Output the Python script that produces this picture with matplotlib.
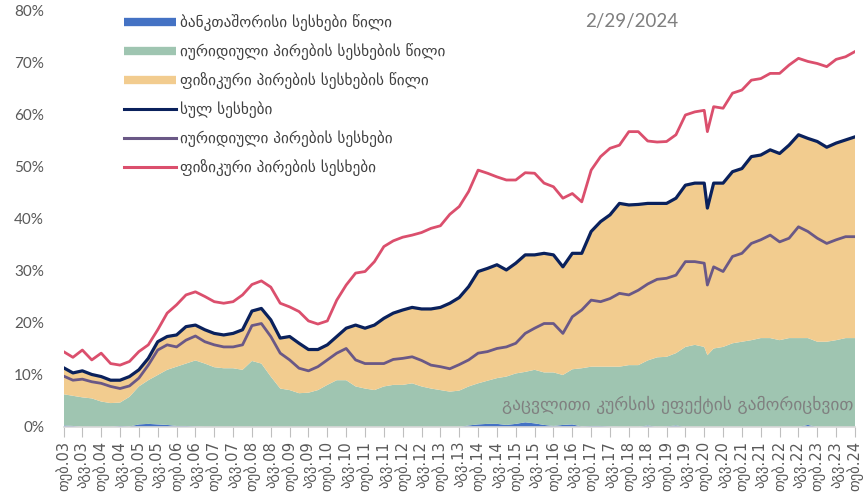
import matplotlib
matplotlib.use("Agg")
import matplotlib.pyplot as plt
from matplotlib.lines import Line2D
from matplotlib.ticker import FuncFormatter, MultipleLocator
import numpy as np

# month offsets from Feb 2003 (quarterly, plus the Mar 2020 dip)
months = list(range(0, 205, 3)) + [205] + list(range(207, 253, 3))

phys_loans = [
    14.5, 13.4, 14.8, 12.9, 14.2, 12.2, 11.9, 12.6, 14.5, 15.8,
    18.7, 21.9, 23.5, 25.4, 26.0, 25.1, 24.1, 23.8, 24.1, 25.4,
    27.4, 28.1, 26.9, 23.8, 23.1, 22.2, 20.4, 19.8, 20.4, 24.4,
    27.3, 29.6, 29.9, 31.8, 34.7, 35.8, 36.5, 36.9, 37.4, 38.2,
    38.7, 40.9, 42.4, 45.3, 49.4, 48.8, 48.1, 47.5, 47.5, 48.9,
    48.8, 46.9, 46.2, 44.0, 44.9, 43.3, 49.4, 52.0, 53.6, 54.2,
    56.8, 56.8, 55.0, 54.8, 54.9, 56.2, 60.0, 60.6, 60.9,
    56.8,
    61.6, 61.3, 64.2, 64.8, 66.7, 67.0, 68.0, 68.0, 69.6, 70.9,
    70.3, 69.9, 69.3, 70.7, 71.2, 72.2,
]

total_loans = [
    11.4, 10.4, 10.8, 10.1, 9.7, 9.0, 9.0, 9.7, 11.0, 13.2,
    16.4, 17.4, 17.7, 19.3, 19.6, 18.7, 18.0, 17.7, 18.0, 18.7,
    22.3, 22.8, 20.6, 17.1, 17.4, 16.1, 14.9, 14.9, 15.8, 17.4,
    19.0, 19.6, 19.0, 19.6, 20.9, 21.9, 22.5, 23.0, 22.7, 22.7,
    23.0, 23.8, 24.9, 27.0, 29.9, 30.5, 31.2, 30.2, 31.5, 33.1,
    33.1, 33.4, 33.1, 30.8, 33.4, 33.4, 37.6, 39.5, 40.8, 43.0,
    42.7, 42.8, 43.0, 43.0, 43.0, 44.0, 46.5, 46.9, 46.9,
    42.1,
    46.9, 46.9, 49.1, 49.7, 52.0, 52.3, 53.3, 52.6, 54.2, 56.2,
    55.5, 54.9, 53.8, 54.6, 55.2, 55.8,
]

legal_loans = [
    9.8, 9.0, 9.2, 8.7, 8.4, 7.8, 7.4, 7.9, 9.4, 11.9,
    14.8, 15.8, 15.4, 16.7, 17.5, 16.4, 15.8, 15.4, 15.4, 15.8,
    19.5, 19.9, 17.4, 14.2, 12.9, 11.3, 10.8, 11.6, 12.9, 14.2,
    15.1, 12.9, 12.2, 12.2, 12.2, 13.0, 13.2, 13.5, 12.8, 11.9,
    11.6, 11.2, 12.0, 12.9, 14.2, 14.5, 15.1, 15.4, 16.1, 18.0,
    19.0, 19.9, 19.9, 18.0, 21.2, 22.5, 24.4, 24.1, 24.7, 25.7,
    25.4, 26.3, 27.5, 28.4, 28.6, 29.2, 31.8, 31.8, 31.5,
    27.3,
    30.8, 29.9, 32.8, 33.4, 35.3, 36.0, 36.9, 35.6, 36.3, 38.5,
    37.6, 36.3, 35.3, 36.0, 36.6, 36.6,
]

legal_share = [
    6.0, 5.8, 5.7, 5.5, 4.9, 4.6, 4.5, 5.7, 7.3, 8.4,
    9.5, 10.6, 11.4, 12.0, 12.7, 12.2, 11.5, 11.3, 11.3, 11.0,
    12.7, 12.2, 9.7, 7.4, 7.1, 6.5, 6.6, 7.1, 8.1, 9.0,
    9.0, 7.8, 7.4, 7.1, 7.8, 8.1, 8.1, 8.4, 7.8, 7.4,
    7.1, 6.8, 7.0, 7.5, 7.9, 8.3, 8.8, 9.3, 9.7, 9.7,
    10.3, 10.1, 10.3, 9.6, 10.6, 11.2, 11.4, 11.4, 11.5, 11.6,
    11.9, 11.9, 12.5, 13.4, 13.4, 13.9, 15.4, 15.8, 15.4,
    13.8,
    15.1, 15.4, 16.1, 16.4, 16.7, 17.1, 17.1, 16.7, 17.1, 17.1,
    16.7, 16.4, 16.4, 16.7, 17.1, 17.1,
]

interbank_share = [
    0.3, 0.2, 0, 0, 0, 0, 0.2, 0.1, 0.5, 0.6,
    0.5, 0.4, 0.2, 0.2, 0.1, 0, 0, 0, 0, 0,
    0, 0, 0, 0, 0, 0, 0, 0, 0, 0,
    0, 0, 0, 0, 0, 0, 0, 0, 0, 0,
    0, 0, 0, 0.3, 0.5, 0.6, 0.6, 0.4, 0.6, 0.9,
    0.7, 0.4, 0.2, 0.4, 0.5, 0.1, 0.2, 0.2, 0.1, 0,
    0, 0, 0.3, 0, 0.1, 0.3, 0, 0, 0,
    0,
    0, 0, 0, 0, 0, 0, 0, 0, 0, 0,
    0.4, 0, 0, 0, 0, 0,
]

# individuals' share is what is left of the total
phys_share = np.array(total_loans) - np.array(legal_share) - np.array(interbank_share)

labels = [
    "ბანკთაშორისი სესხები წილი",
    "იურიდიული პირების სესხების წილი",
    "ფიზიკური პირების სესხების წილი",
    "სულ სესხები",
    "იურიდიული პირების სესხები",
    "ფიზიკური პირების სესხები",
]
month_names = {0: "თებ", 6: "აგვ"}

c_blue = "#4472C4"
c_green = "#9FC5B1"
c_yellow = "#F2CC8F"
c_navy = "#0A215C"
c_purple = "#6A5886"
c_pink = "#DB4F6D"
grey = "#595959"

fig = plt.figure(figsize=(8.63, 4.99), dpi=100)
ax = fig.add_axes([63.5 / 863, 1 - 427 / 499, 791.5 / 863, 416 / 499])

ax.stackplot(months, interbank_share, legal_share, phys_share,
             colors=[c_blue, c_green, c_yellow], linewidth=0)
ax.plot(months, total_loans, color=c_navy, lw=2.3)
ax.plot(months, legal_loans, color=c_purple, lw=2.0)
ax.plot(months, phys_loans, color=c_pink, lw=2.0)

ax.set_xlim(0, 252)
ax.set_ylim(0, 80)
ax.yaxis.set_major_locator(MultipleLocator(10))
ax.yaxis.set_major_formatter(FuncFormatter(lambda v, p: f"{v:.0f}%"))
ax.tick_params(axis="y", length=0, pad=14, labelsize=11, labelcolor=grey)
for t in ax.get_yticklabels():
    t.set_family(["Lato", "DejaVu Sans"])

ticks = list(range(0, 253, 6))
ax.set_xticks(ticks)
ax.set_xticklabels([f"{month_names[m % 12]}.{(3 + (m + 1) // 12):02d}" for m in ticks],
                   rotation=90, fontsize=10.5, color=grey, family="DejaVu Sans")
ax.tick_params(axis="x", length=7, color="#BFBFBF", pad=3)

for s in ["top", "right", "left"]:
    ax.spines[s].set_visible(False)
ax.spines["bottom"].set_color("#D9D9D9")
ax.spines["bottom"].set_linewidth(1.2)

handles = [
    Line2D([], [], color=c_blue, lw=6, solid_capstyle="butt"),
    Line2D([], [], color=c_green, lw=6, solid_capstyle="butt"),
    Line2D([], [], color=c_yellow, lw=6, solid_capstyle="butt"),
    Line2D([], [], color=c_navy, lw=2.2),
    Line2D([], [], color=c_purple, lw=2.2),
    Line2D([], [], color=c_pink, lw=2.2),
]
leg = ax.legend(handles, labels, loc="upper left", bbox_to_anchor=(0.076, 0.993),
                frameon=False, handlelength=3.4, handletextpad=0.3,
                labelspacing=0.8, borderaxespad=0, borderpad=0,
                prop={"family": "DejaVu Sans", "size": 11})
for t in leg.get_texts():
    t.set_color("#404040")

fig.text(632 / 863, 1 - 22 / 499, "2/29/2024", ha="center", va="center",
         fontsize=13.5, color="#7F7F7F", family=["Lato", "DejaVu Sans"])
ax.text(0.998, 0.053, "გაცვლითი კურსის ეფექტის გამორიცხვით", transform=ax.transAxes,
        ha="right", va="center", fontsize=12.6, color="#808080", family="DejaVu Sans")

fig.savefig("out.png", dpi=100)
